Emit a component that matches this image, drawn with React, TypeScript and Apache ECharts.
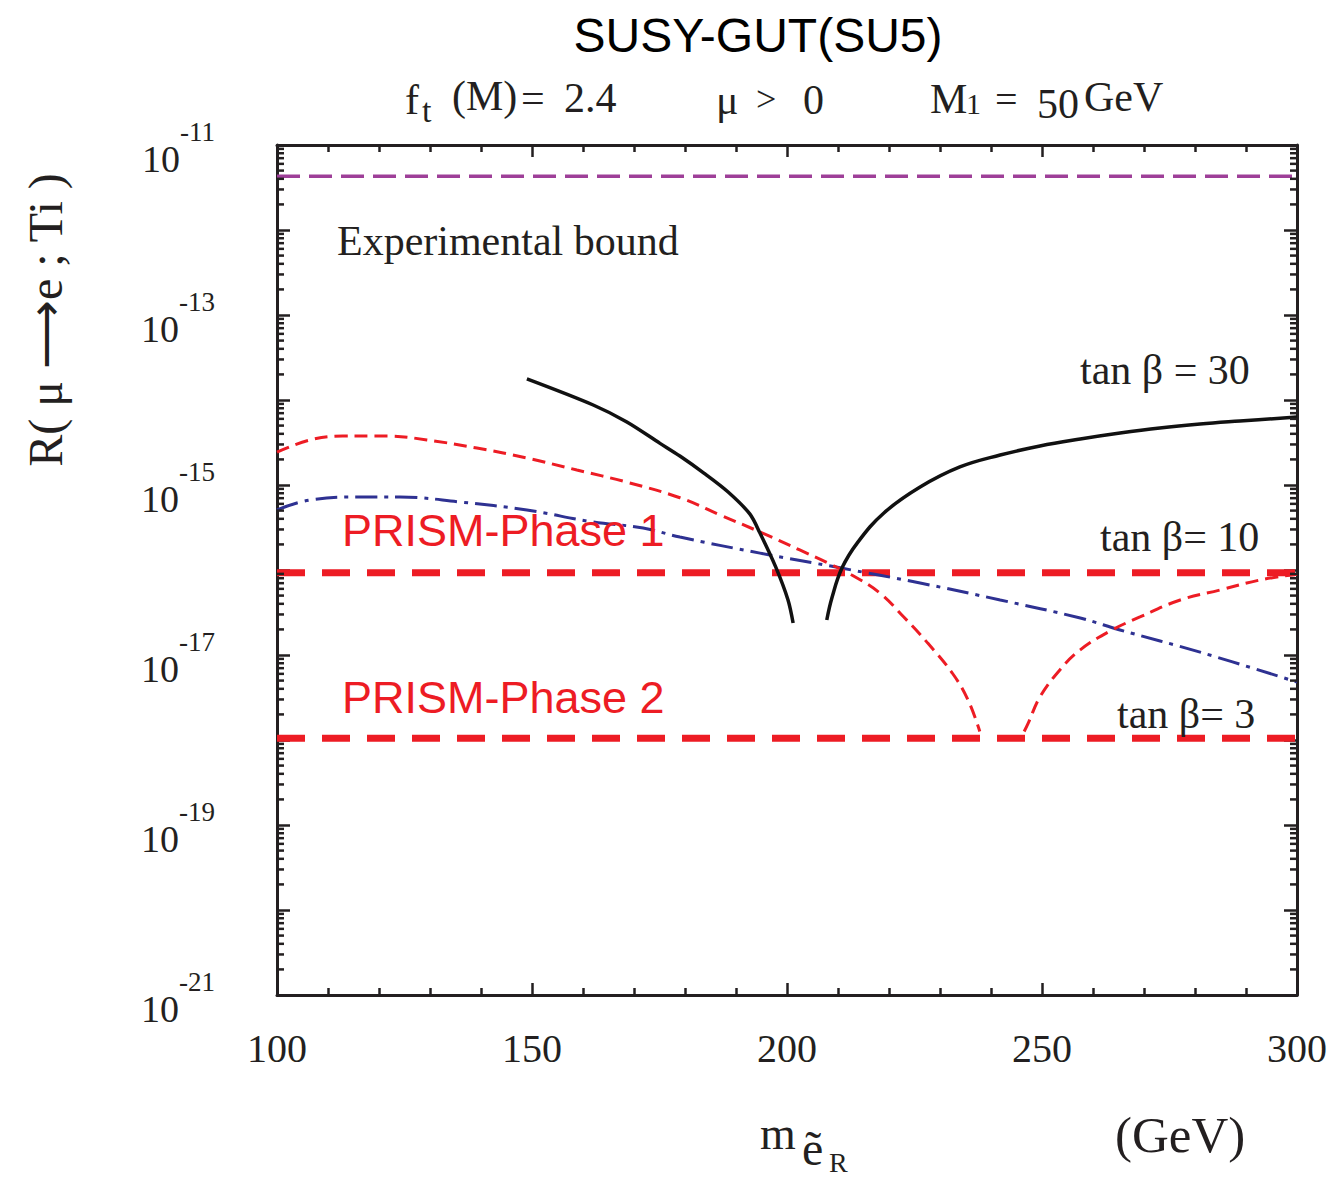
import React, { useEffect, useRef } from "react";
import * as echarts from "echarts";

// ---- axis definitions ----
const xMin = 100;
const xMax = 300;
const xMajorStep = 50;
const yMinExp = -21;
const yMaxExp = -11;
const yLabelEvery = 2;
const minorMantissas = [2, 3, 4, 5, 6, 7, 8, 9];

// ---- horizontal reference lines ----
const experimentalBound = 4.3e-12;
const prismPhase1 = 9.3e-17;
const prismPhase2 = 1.05e-18;

// ---- tan beta = 30 (black solid), two branches ----
const tan30Left: [number, number][] = [
  [149.0, 1.77e-14], [162.0, 8.73e-15], [168.6, 5.51e-15], [175.1, 3.09e-15],
  [179.0, 2.19e-15], [183.7, 1.38e-15], [188.4, 8.32e-16], [192.7, 4.57e-16],
  [194.7, 2.72e-16], [197.8, 1.08e-16], [200.2, 4.44e-17], [201.2, 2.38e-17],
];
const tan30Right: [number, number][] = [
  [207.8, 2.58e-17], [208.8, 4.69e-17], [210.8, 1.06e-16], [213.9, 2.13e-16],
  [219.0, 4.69e-16], [226.1, 9.46e-16], [233.9, 1.63e-15], [241.8, 2.25e-15],
  [249.6, 2.88e-15], [257.5, 3.48e-15], [265.3, 4.09e-15], [273.1, 4.69e-15],
  [281.0, 5.22e-15], [288.8, 5.66e-15], [300.0, 6.31e-15],
];

// ---- tan beta = 10 (red thin dashed), two branches ----
const tan10Left: [number, number][] = [
  [100.0, 2.44e-15], [106.5, 3.39e-15], [112.9, 3.77e-15], [121.6, 3.77e-15],
  [129.4, 3.39e-15], [139.2, 2.72e-15], [149.0, 2.08e-15], [158.8, 1.5e-15],
  [168.6, 1.08e-15], [179.0, 7.08e-16], [186.9, 4.44e-16], [194.7, 2.8e-16],
  [202.5, 1.72e-16], [208.0, 1.21e-16], [212.7, 8.73e-17], [218.2, 5.36e-17],
  [222.9, 2.8e-17], [227.6, 1.38e-17], [232.4, 6.14e-18], [235.5, 2.96e-18],
  [237.8, 1.26e-18],
];
const tan10Right: [number, number][] = [
  [246.5, 1.26e-18], [247.3, 1.58e-18], [249.6, 3.21e-18], [253.5, 6.67e-18],
  [257.5, 1.15e-17], [263.3, 1.91e-17], [269.2, 2.8e-17], [277.1, 4.44e-17],
  [284.9, 5.82e-17], [292.7, 7.62e-17], [300.0, 8.91e-17],
];

// ---- tan beta = 3 (blue dash-dot) ----
const tan3: [number, number][] = [
  [100.0, 5.08e-16], [106.5, 6.67e-16], [116.3, 7.23e-16], [124.1, 7.23e-16],
  [135.9, 6.31e-16], [149.0, 5.08e-16], [162.0, 3.67e-16], [171.8, 3.12e-16],
  [179.0, 2.44e-16], [194.7, 1.58e-16], [210.4, 1.06e-16], [226.1, 7.03e-17],
  [241.8, 4.44e-17], [257.5, 2.72e-17], [265.3, 1.97e-17], [281.0, 1.08e-17],
  [300.0, 4.81e-18],
];

const SERIF = "'Liberation Serif', 'Times New Roman', serif";
const SANS = "'Liberation Sans', Arial, sans-serif";
const INK = "#231f20";
const RED = "#ed1c24";
const BLUE = "#2e3192";
const PURPLE = "#9e3f98";

// the y axis is a value axis over log10(R)
const toLog = (pts: [number, number][]) => pts.map(([x, y]) => [x, Math.log10(y)]);

function minorTickData(): number[][] {
  const out: number[][] = [];
  for (let e = yMinExp; e < yMaxExp; e++) {
    for (const m of minorMantissas) out.push([xMin, e + Math.log10(m)]);
  }
  return out;
}

function t(text: string, x: number, y: number, size: number, opts: any = {}) {
  return {
    type: "text",
    x,
    y,
    rotation: opts.rotation || 0,
    style: {
      text,
      font: `${size}px ${opts.family || SERIF}`,
      fill: opts.fill || INK,
      textAlign: opts.align || "left",
      textVerticalAlign: "middle",
    },
    z: 100,
  };
}

export default function App() {
  const ref = useRef<HTMLDivElement>(null);
  useEffect(() => {
    document.body.style.margin = "0";
    const chart = echarts.init(ref.current!, null, { renderer: "svg" });
    const axisLine = { show: true, onZero: false, lineStyle: { color: INK, width: 3 } };
    const xBase = {
      type: "value",
      min: xMin,
      max: xMax,
      interval: xMajorStep,
      axisLine,
      axisTick: { show: true, inside: true, length: 12, lineStyle: { color: INK, width: 2.5 } },
      minorTick: { show: true, splitNumber: 5, length: 7, lineStyle: { color: INK, width: 2.5 } },
      splitLine: { show: false },
      minorSplitLine: { show: false },
    };
    const yBase = {
      type: "value",
      min: yMinExp,
      max: yMaxExp,
      interval: 1,
      axisLine,
      axisTick: { show: true, inside: true, length: 13, lineStyle: { color: INK, width: 2.5 } },
      splitLine: { show: false },
    };
    const lineSeries = (data: any, color: string, width: number, type: any, smooth: number | boolean = 0.4) => ({
      type: "line",
      data: toLog(data),
      showSymbol: false,
      symbol: "none",
      smooth,
      lineStyle: { color, width, type },
      z: 5,
    });
    const option: any = {
      animation: false,
      backgroundColor: "#ffffff",
      grid: { left: 277, top: 145, width: 1020, height: 850, containLabel: false },
      xAxis: [
        {
          ...xBase,
          position: "bottom",
          axisLabel: { show: true, fontSize: 40, fontFamily: SERIF, color: INK, margin: 33 },
        },
        { ...xBase, position: "top", axisLabel: { show: false } },
      ],
      yAxis: [
        {
          ...yBase,
          position: "left",
          axisLabel: {
            show: true,
            margin: 62,
            formatter: (v: number) => {
              const e = Math.round(v);
              if ((yMaxExp - e) % yLabelEvery !== 0) return "";
              return `{b|10}{s|${e}}`;
            },
            rich: {
              b: { fontSize: 38, fontFamily: SERIF, color: INK, padding: [28, 0, 0, 0] },
              s: { fontSize: 27, fontFamily: SERIF, color: INK, padding: [0, 0, 26, 0] },
            },
          },
        },
        { ...yBase, position: "right", axisLabel: { show: false } },
      ],
      series: [
        {
          type: "custom",
          xAxisIndex: 0,
          yAxisIndex: 0,
          data: minorTickData(),
          silent: true,
          renderItem: (params: any, api: any) => {
            const v = api.value(1);
            const l = api.coord([xMin, v]);
            const r = api.coord([xMax, v]);
            const st = { stroke: INK, lineWidth: 2.5 };
            return {
              type: "group",
              children: [
                { type: "line", shape: { x1: l[0], y1: l[1], x2: l[0] + 7, y2: l[1] }, style: st },
                { type: "line", shape: { x1: r[0], y1: r[1], x2: r[0] - 7, y2: r[1] }, style: st },
              ],
            };
          },
          z: 10,
        },
        lineSeries([[xMin, experimentalBound], [xMax, experimentalBound]], PURPLE, 3.5, [23, 9], false),
        lineSeries([[xMin, prismPhase1], [xMax, prismPhase1]], RED, 7, [28, 17], false),
        lineSeries([[xMin, prismPhase2], [xMax, prismPhase2]], RED, 7, [28, 17], false),
        lineSeries(tan3, BLUE, 3, [22, 7, 4, 7]),
        lineSeries(tan10Left, RED, 3, [13, 7]),
        lineSeries(tan10Right, RED, 3, [13, 7]),
        lineSeries(tan30Left, "#111111", 3.5, "solid", 0.3),
        lineSeries(tan30Right, "#111111", 3.5, "solid", 0.4),
      ],
      graphic: [
        t("SUSY-GUT(SU5)", 758, 35, 48, { family: SANS, align: "center", fill: "#000" }),
        t("f", 405, 100, 42),
        t("t", 422, 110, 34),
        t("(M)", 452, 96, 42),
        t("=", 521, 98, 42),
        t("2.4", 564, 98, 42),
        t("μ", 716, 100, 42),
        t(">", 756, 99, 36),
        t("0", 803, 100, 42),
        t("M", 930, 99, 42),
        t("1", 966, 103, 30),
        t("=", 995, 99, 40),
        t("50", 1037, 104, 42),
        t("GeV", 1084, 97, 42),
        t("Experimental bound", 337, 241, 42),
        t("tan β = 30", 1080, 370, 42),
        t("tan β= 10", 1100, 537, 42),
        t("tan β= 3", 1117, 714, 42),
        t("PRISM-Phase 1", 342, 530, 45, { family: SANS, fill: RED }),
        t("PRISM-Phase 2", 342, 697, 45, { family: SANS, fill: RED }),
        t("R( μ ⟶e ; Ti )", 45, 320, 48, { align: "center", rotation: Math.PI / 2 }),
        t("m", 760, 1133, 46),
        t("ẽ", 802, 1148, 48),
        t("R", 829, 1162, 28),
        t("(GeV)", 1115, 1135, 51),
      ],
    };
    chart.setOption(option);
    return () => chart.dispose();
  }, []);
  return <div ref={ref} style={{ width: 1336, height: 1180 }} />;
}
